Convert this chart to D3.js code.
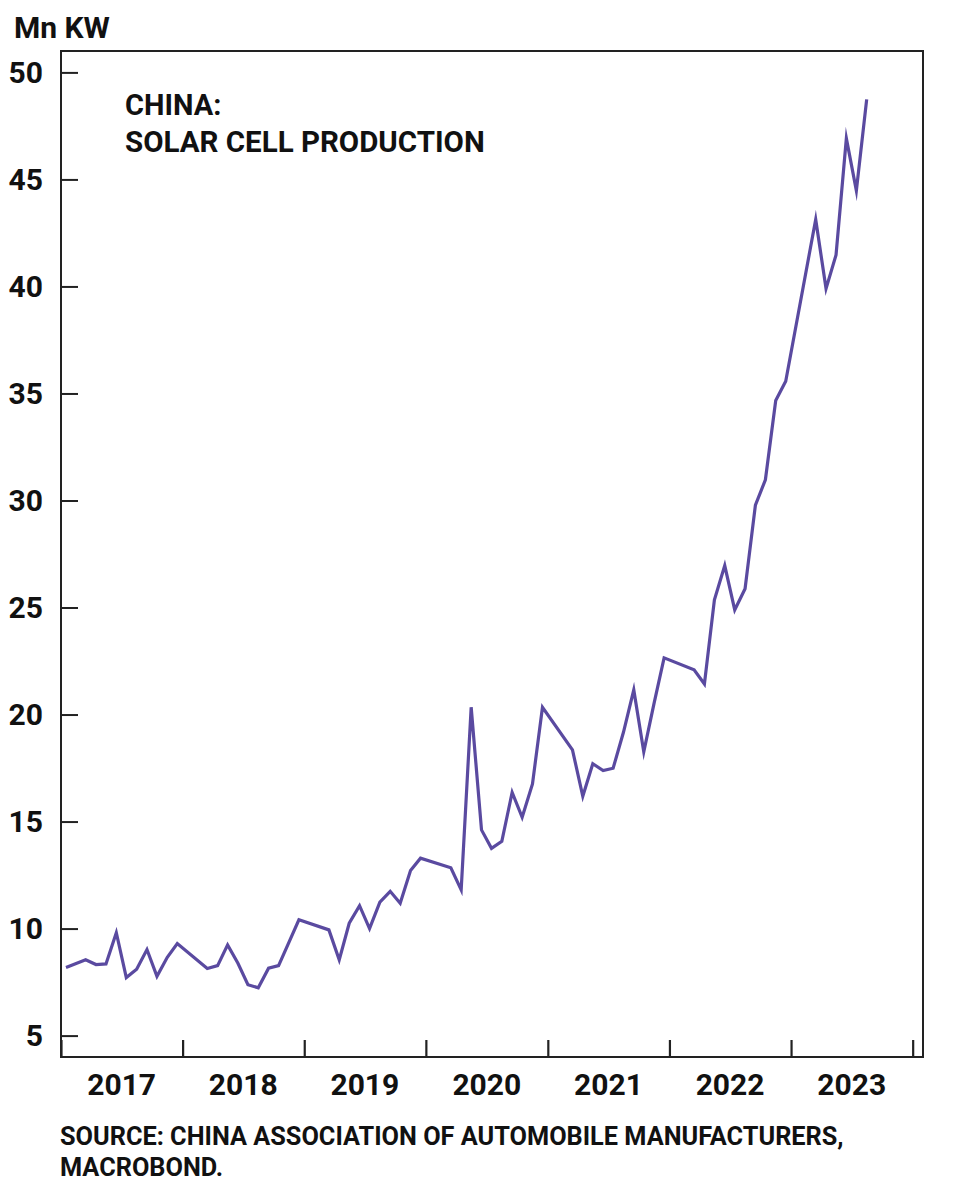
<!DOCTYPE html>
<html>
<head>
<meta charset="utf-8">
<script src="https://cdn.jsdelivr.net/npm/d3@7"></script>
<style>
  body { margin: 0; background: #fff; }
  text { font-family: Roboto, "Noto Sans", sans-serif; font-weight: 700; fill: #111; }
</style>
</head>
<body>
<div id="chart"></div>
<script>
// months with data (Jan+Feb are reported together, so Feb is missing)
var months = [
  "2017-01", "2017-03", "2017-04", "2017-05", "2017-06", "2017-07", "2017-08", "2017-09", "2017-10", "2017-11", "2017-12",
  "2018-03", "2018-04", "2018-05", "2018-06", "2018-07", "2018-08", "2018-09", "2018-10", "2018-11", "2018-12",
  "2019-03", "2019-04", "2019-05", "2019-06", "2019-07", "2019-08", "2019-09", "2019-10", "2019-11", "2019-12",
  "2020-03", "2020-04", "2020-05", "2020-06", "2020-07", "2020-08", "2020-09", "2020-10", "2020-11", "2020-12",
  "2021-03", "2021-04", "2021-05", "2021-06", "2021-07", "2021-08", "2021-09", "2021-10", "2021-11", "2021-12",
  "2022-03", "2022-04", "2022-05", "2022-06", "2022-07", "2022-08", "2022-09", "2022-10", "2022-11", "2022-12",
  "2023-03", "2023-04", "2023-05", "2023-06", "2023-07", "2023-08"
];

// solar cell production, Mn KW
var production = [
  8.18, 8.54, 8.32, 8.35, 9.81, 7.71, 8.10, 9.02, 7.77, 8.66, 9.30,
  8.13, 8.27, 9.24, 8.38, 7.38, 7.23, 8.15, 8.27, 9.36, 10.41,
  9.94, 8.54, 10.25, 11.07, 10.00, 11.23, 11.74, 11.18, 12.71, 13.29,
  12.84, 11.81, 20.34, 14.61, 13.75, 14.08, 16.36, 15.20, 16.76, 20.34,
  18.35, 16.18, 17.70, 17.38, 17.49, 19.17, 21.15, 18.26, 20.53, 22.65,
  22.09, 21.43, 25.36, 26.96, 24.89, 25.88, 29.78, 30.97, 34.67, 35.57,
  43.13, 39.90, 41.47, 46.92, 44.48, 48.74
];

var yTicks = [5, 10, 15, 20, 25, 30, 35, 40, 45, 50];
var years = [2017, 2018, 2019, 2020, 2021, 2022, 2023];

var width = 963;
var height = 1200;
var margin = { top: 51, right: 923, bottom: 1057, left: 61 };

var svg = d3.select("#chart").append("svg")
  .attr("width", width)
  .attr("height", height);

var parseMonth = d3.timeParse("%Y-%m");

var data = months.map(function (m, i) {
  // plot each month at its middle
  return { date: d3.timeDay.offset(parseMonth(m), 15), value: production[i] };
});

var xScale = d3.scaleTime()
  .domain([new Date(2017, 0, 1), new Date(2024, 1, 1)])
  .range([margin.left, margin.right]);

var yScale = d3.scaleLinear([4, 51], [margin.bottom, margin.top]);

// y ticks (inside the frame)
var yAxis = d3.axisRight(yScale)
  .tickValues(yTicks)
  .tickSize(17)
  .tickFormat("");

svg.append("g")
  .attr("transform", "translate(" + margin.left + ",0)")
  .call(yAxis)
  .call(function (g) {
    g.select(".domain").remove();
    g.selectAll("line").attr("stroke", "#222").attr("stroke-width", 2);
  });

svg.append("g")
  .selectAll("text")
  .data(yTicks)
  .join("text")
  .attr("x", 43)
  .attr("y", function (d) { return yScale(d); })
  .attr("dy", "0.36em")
  .attr("text-anchor", "end")
  .attr("font-size", 30)
  .text(function (d) { return d; });

// x ticks at the start of each year
var xAxis = d3.axisTop(xScale)
  .tickValues(d3.range(2017, 2025).map(function (y) { return new Date(y, 0, 1); }))
  .tickSize(17)
  .tickFormat("");

svg.append("g")
  .attr("transform", "translate(0," + margin.bottom + ")")
  .call(xAxis)
  .call(function (g) {
    g.select(".domain").remove();
    g.selectAll("line").attr("stroke", "#222").attr("stroke-width", 2.2);
  });

svg.append("g")
  .selectAll("text")
  .data(years)
  .join("text")
  .attr("x", function (d) { return xScale(new Date(d, 6, 2)); })
  .attr("y", 1095)
  .attr("text-anchor", "middle")
  .attr("font-size", 30)
  .text(function (d) { return d; });

// frame
svg.append("rect")
  .attr("x", margin.left)
  .attr("y", margin.top)
  .attr("width", margin.right - margin.left)
  .attr("height", margin.bottom - margin.top)
  .attr("fill", "none")
  .attr("stroke", "#222")
  .attr("stroke-width", 2);

// the line
var line = d3.line()
  .x(function (d) { return xScale(d.date); })
  .y(function (d) { return yScale(d.value); });

svg.append("path")
  .datum(data)
  .attr("d", line)
  .attr("fill", "none")
  .attr("stroke", "#5a4aa0")
  .attr("stroke-width", 3.2)
  .attr("stroke-linejoin", "miter")
  .attr("stroke-miterlimit", 10);

// unit label
svg.append("text")
  .attr("x", 14)
  .attr("y", 38)
  .attr("font-size", 30)
  .text("Mn KW");

// title
svg.append("text")
  .attr("x", 125)
  .attr("y", 115)
  .attr("font-size", 29)
  .text("CHINA:");

svg.append("text")
  .attr("x", 125)
  .attr("y", 152)
  .attr("font-size", 29.5)
  .text("SOLAR CELL PRODUCTION");

// source
svg.append("text")
  .attr("x", 60)
  .attr("y", 1145)
  .attr("font-size", 25.3)
  .text("SOURCE: CHINA ASSOCIATION OF AUTOMOBILE MANUFACTURERS,");

svg.append("text")
  .attr("x", 60)
  .attr("y", 1176)
  .attr("font-size", 25.3)
  .text("MACROBOND.");
</script>
</body>
</html>
